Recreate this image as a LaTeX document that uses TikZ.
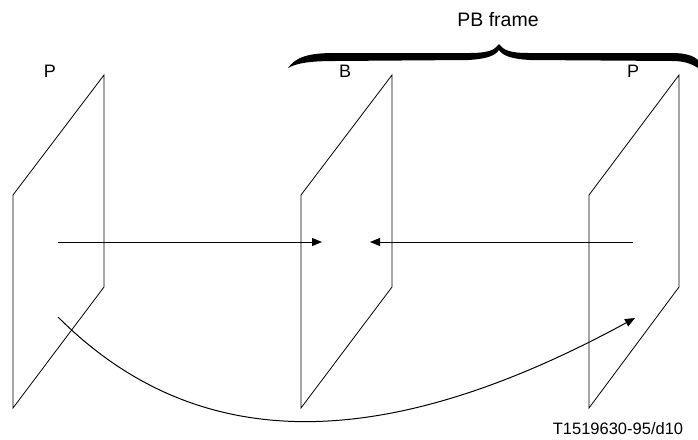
\documentclass[tikz,border=0pt]{standalone}
\usepackage{fontspec}
\setmainfont{Liberation Sans}
\usetikzlibrary{arrows.meta}
\tikzset{
  frame/.style={line width=0.8pt, line join=miter},
  conn/.style={line width=1pt, -{Triangle[length=10pt,width=8pt]}},
  lbl/.style={inner sep=0pt, font=\fontsize{18}{21}\selectfont},
}
\begin{document}
\begin{tikzpicture}[x=1pt,y=-1pt]
\useasboundingbox (0,0) rectangle (698,439);
% frames
\draw[frame] (13,195) -- (104,75) -- (104,287) -- (13,408) -- cycle;
\draw[frame] (301,195) -- (392,75) -- (392,287) -- (301,408) -- cycle;
\draw[frame] (589,195) -- (679,75) -- (679,287) -- (589,408) -- cycle;
% labels
\node[lbl] (p1) at (50,71) {P};
\node[lbl] (b) at (345,71) {B};
\node[lbl] (p2) at (633,71) {P};
\node[inner sep=0pt, font=\fontsize{19.5}{23}\selectfont] (pb) at (498,20) {PB frame};
\node[inner sep=0pt, font=\fontsize{16.5}{20}\selectfont] (code) at (618,429) {T1519630-95/d10};
% brace
\fill (288,68) .. controls (296,57) and (308,53) .. (335,53) -- (470,53)
  .. controls (488,53) and (495,50) .. (499,44)
  .. controls (503,50) and (510,53) .. (528,53) -- (672,53)
  .. controls (686,53) and (694,56) .. (698,60) -- (698,68)
  .. controls (690,63) and (683,61) .. (672,61) -- (530,60)
  .. controls (512,59) and (503,56) .. (499,50)
  .. controls (495,56) and (486,59) .. (468,60) -- (335,61)
  .. controls (310,61) and (297,63) .. (288,68) -- cycle;
% connectors
\coordinate (a1s) at (58,242);
\coordinate (a1e) at (322,242);
\coordinate (a2s) at (633,242);
\coordinate (a2e) at (370,242);
\coordinate (cs) at (58,317);
\coordinate (ce) at (635,318);
\draw[conn] (a1s) -- (a1e);
\draw[conn] (a2s) -- (a2e);
\draw[conn] (cs) .. controls (193,452) and (376,459) .. (ce);
\end{tikzpicture}
\end{document}
